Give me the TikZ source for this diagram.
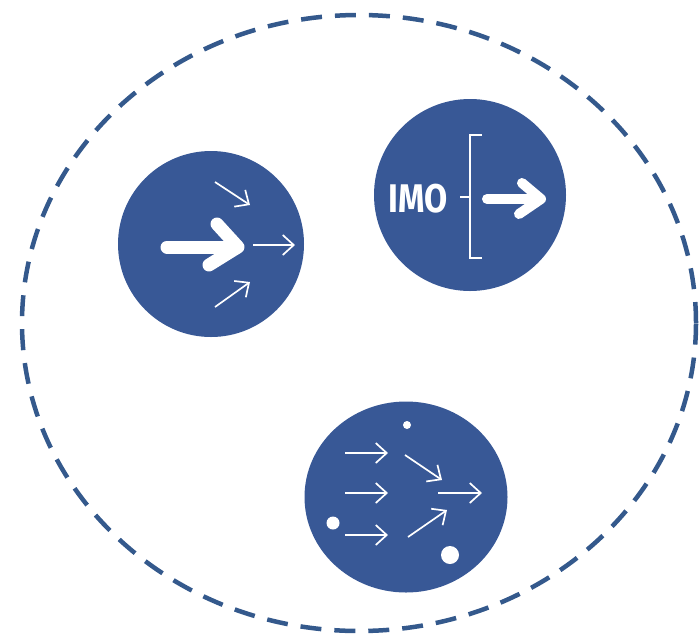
\documentclass[tikz,border=0pt]{standalone}
\usepackage{fontspec}
\setsansfont{Fira Sans}
\usetikzlibrary{arrows.meta,shapes.geometric}
\definecolor{dotblue}{RGB}{52,89,140}
\definecolor{discblue}{RGB}{56,88,150}
\tikzset{
  disc/.style={circle, fill=discblue, inner sep=0pt},
  thin arrow/.style={white, line width=1.7pt, -{Straight Barb[length=11pt,width=20pt,line width=1.7pt]}},
  fat arrow/.style={white, line width=#1, line cap=round, line join=round},
  dot/.style={circle, fill=white, inner sep=0pt},
}
\begin{document}
\begin{tikzpicture}[x=1pt,y=-1pt]
\useasboundingbox (0,0) rectangle (700,638);
% outer dashed ellipse
\node[draw=dotblue, line width=4.5pt, dash pattern=on 21pt off 13pt, ellipse, minimum width=674pt, minimum height=616pt, inner sep=0pt] (outer) at (359,323) {};
% disc 1
\node[disc, minimum size=186pt] (c1) at (211,244) {};
\draw[fat arrow=13pt] (167,247) -- (237,247);
\draw[fat arrow=13pt] (217,224) -- (238,247) -- (209,265);
\draw[thin arrow] (215,182) -- (250,205);
\draw[thin arrow] (253,245) -- (295,245);
\draw[thin arrow] (215,307) -- (250,282);
% disc 2
\node[disc, minimum size=192pt] (c2) at (470,195) {};
\node[white, font=\sffamily\bfseries\fontsize{40}{40}\selectfont, inner sep=0pt, xscale=0.84, transform shape] (imo) at (418,199) {IMO};
\draw[white, line width=2pt] (482,135) -- (470,135) -- (470,258) -- (482,258);
\draw[white, line width=2pt] (460,197) -- (470,197);
\draw[fat arrow=10pt] (487,199) -- (540,199);
\draw[fat arrow=10pt] (522,183) -- (541,199) -- (519,214);
% disc 3
\node[disc, ellipse, minimum width=203pt, minimum height=191pt] (c3) at (406,497) {};
\node[dot, minimum size=8pt] (d1) at (407,425) {};
\node[dot, minimum size=13pt] (d2) at (333,523) {};
\node[dot, minimum size=18pt] (d3) at (450,555) {};
\draw[thin arrow] (345,453) -- (388,453);
\draw[thin arrow] (345,493) -- (388,493);
\draw[thin arrow] (345,535) -- (388,535);
\draw[thin arrow] (405,455) -- (442,480);
\draw[thin arrow] (438,493) -- (482,493);
\draw[thin arrow] (408,537) -- (447,510);
\end{tikzpicture}
\end{document}
